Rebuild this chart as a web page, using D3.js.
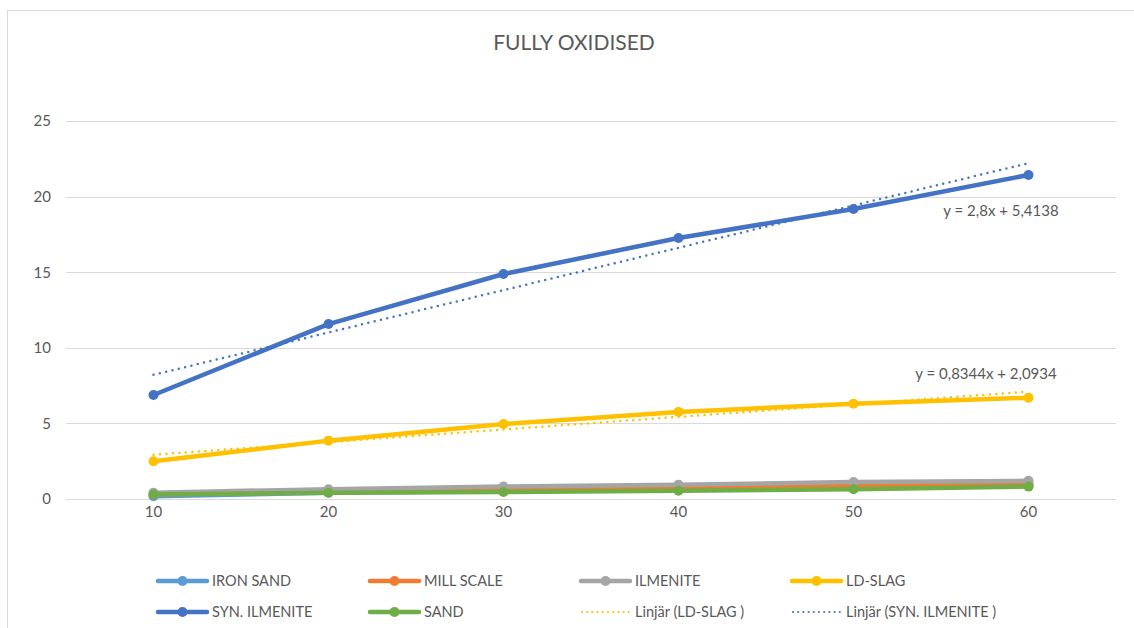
<!DOCTYPE html>
<html>
<head>
<meta charset="utf-8">
<script src="https://cdn.jsdelivr.net/npm/d3@7"></script>
<style>
  html, body { margin: 0; padding: 0; background: #fff; }
  svg { display: block; font-family: Lato, "Open Sans", sans-serif; }
</style>
</head>
<body>
<svg id="chart" width="1134" height="628"></svg>
<script>
// Categories on the x axis
const categories = [10, 20, 30, 40, 50, 60];

// Series values, one per category
const ironSand    = [0.18, 0.42, 0.52, 0.65, 0.80, 0.90];
const millScale   = [0.30, 0.48, 0.62, 0.75, 0.92, 1.00];
const ilmenite    = [0.42, 0.65, 0.82, 0.95, 1.12, 1.20];
const ldSlag      = [2.50, 3.86, 4.96, 5.76, 6.30, 6.70];
const synIlmenite = [6.88, 11.57, 14.88, 17.26, 19.18, 21.43];
const sand        = [0.30, 0.42, 0.46, 0.55, 0.65, 0.82];

const seriesNames = ["IRON SAND", "MILL SCALE", "ILMENITE", "LD-SLAG", "SYN. ILMENITE", "SAND"];
const seriesValues = [ironSand, millScale, ilmenite, ldSlag, synIlmenite, sand];
const seriesColors = ["#5B9BD5", "#ED7D31", "#A5A5A5", "#FFC000", "#4472C4", "#70AD47"];

// Linear trendlines (x = category index 1..n)
const trendNames = ["Linjär (LD-SLAG )", "Linjär (SYN. ILMENITE )"];
const trendSlopes = [0.8344, 2.8];
const trendIntercepts = [2.0934, 5.4138];
const trendLabels = ["y = 0,8344x + 2,0934", "y = 2,8x + 5,4138"];
const trendColors = ["#FFC000", "#4472C4"];

const yTicks = [0, 5, 10, 15, 20, 25];

const svg = d3.select("#chart");
const textColor = "#595959";
const gridColor = "#D9D9D9";

// Outer chart border
svg.append("rect")
  .attr("x", 7.5).attr("y", 10.5)
  .attr("width", 1140).attr("height", 640)
  .attr("fill", "none").attr("stroke", gridColor);

// Title
svg.append("text")
  .attr("x", 574).attr("y", 50)
  .attr("text-anchor", "middle")
  .attr("font-size", 21)
  .attr("fill", textColor)
  .text("FULLY OXIDISED");

const plotLeft = 66, plotRight = 1116;
const x = d3.scaleBand().domain(categories).range([plotLeft, plotRight]);
const y = d3.scaleLinear().domain([0, 25]).range([499, 121]);
const cx = d => x(d) + x.bandwidth() / 2;

// Horizontal gridlines
svg.append("g").selectAll("line").data(yTicks).join("line")
  .attr("x1", plotLeft).attr("x2", plotRight)
  .attr("y1", d => Math.round(y(d)) + 0.5).attr("y2", d => Math.round(y(d)) + 0.5)
  .attr("stroke", gridColor).attr("stroke-width", 1);

// Y axis labels
const yAxis = d3.axisLeft(y).tickValues(yTicks).tickSize(0).tickPadding(0);
svg.append("g")
  .attr("transform", `translate(51,0)`)
  .call(yAxis)
  .call(g => g.select(".domain").remove())
  .call(g => g.selectAll("text").attr("font-size", 15).attr("fill", textColor).attr("font-family", "Lato, sans-serif"));

// X axis labels
const xAxis = d3.axisBottom(x).tickSize(0).tickPadding(0);
svg.append("g")
  .attr("transform", `translate(0,${y(0) + 16})`)
  .call(xAxis)
  .call(g => g.select(".domain").remove())
  .call(g => g.selectAll("text").attr("font-size", 15).attr("fill", textColor).attr("font-family", "Lato, sans-serif").attr("dy", "0.1em"));

// Series lines and markers
const line = d3.line().x((d, i) => cx(categories[i])).y(d => y(d));
seriesValues.forEach((vals, s) => {
  const g = svg.append("g");
  g.append("path")
    .attr("d", line(vals))
    .attr("fill", "none")
    .attr("stroke", seriesColors[s])
    .attr("stroke-width", 4.5)
    .attr("stroke-linejoin", "round")
    .attr("stroke-linecap", "round");
  g.selectAll("circle").data(vals).join("circle")
    .attr("cx", (d, i) => cx(categories[i]))
    .attr("cy", d => y(d))
    .attr("r", 5)
    .attr("fill", seriesColors[s]);
});

// Trendlines
trendSlopes.forEach((m, t) => {
  const first = 1, last = categories.length;
  svg.append("line")
    .attr("x1", cx(categories[0])).attr("y1", y(m * first + trendIntercepts[t]))
    .attr("x2", cx(categories[last - 1])).attr("y2", y(m * last + trendIntercepts[t]))
    .attr("stroke", trendColors[t])
    .attr("stroke-width", 2.5)
    .attr("stroke-dasharray", "0 6.5")
    .attr("stroke-linecap", "round");
});

// Trendline equations
const eqPos = [[986, 379], [1001, 216]];
trendLabels.forEach((lbl, t) => {
  svg.append("text")
    .attr("x", eqPos[t][0]).attr("y", eqPos[t][1])
    .attr("text-anchor", "middle")
    .attr("font-size", 15)
    .attr("fill", textColor)
    .text(lbl);
});

// Legend
const legendItems = seriesNames.map((n, i) => ({ name: n, color: seriesColors[i], trend: false }))
  .concat(trendNames.map((n, i) => ({ name: n, color: trendColors[i], trend: true })));
const colX = [158, 370, 581, 792];
const rowY = [581, 612];
const leg = svg.append("g");
legendItems.forEach((it, i) => {
  const lx = colX[i % 4], ly = rowY[Math.floor(i / 4)];
  const g = leg.append("g");
  if (it.trend) {
    g.append("line")
      .attr("x1", lx + 1).attr("x2", lx + 48).attr("y1", ly).attr("y2", ly)
      .attr("stroke", it.color).attr("stroke-width", 2.2)
      .attr("stroke-dasharray", "0 5.2").attr("stroke-linecap", "round");
  } else {
    g.append("line")
      .attr("x1", lx).attr("x2", lx + 49).attr("y1", ly).attr("y2", ly)
      .attr("stroke", it.color).attr("stroke-width", 4.5).attr("stroke-linecap", "round");
    g.append("circle")
      .attr("cx", lx + 24.5).attr("cy", ly).attr("r", 5).attr("fill", it.color);
  }
  g.append("text")
    .attr("x", lx + 54).attr("y", ly + 5)
    .attr("font-size", 14.5)
    .attr("fill", textColor)
    .text(it.name);
});
</script>
</body>
</html>
